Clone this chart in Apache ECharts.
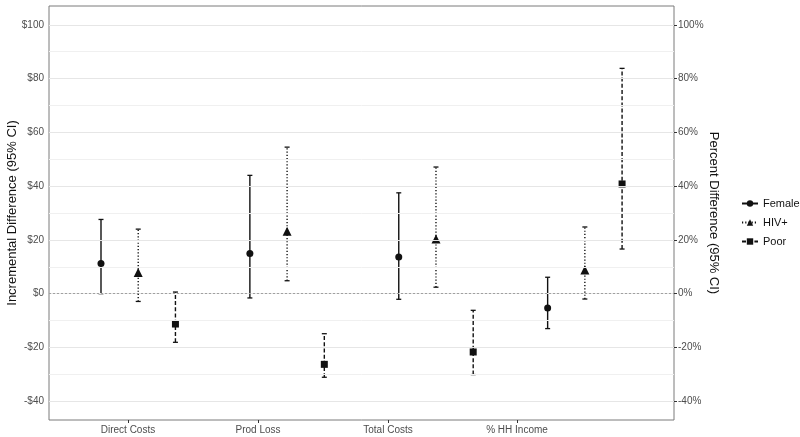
<!DOCTYPE html>
<html>
<head>
    <meta charset="utf-8">
    <title>Incremental and percent difference</title>
    <script src="https://cdn.jsdelivr.net/npm/echarts@6/dist/echarts.min.js"></script>
    <style>
        html, body { margin: 0; padding: 0; background: #fff; }
        #chart { width: 800px; height: 437px; }
    </style>
</head>
<body>
<div id="chart"></div>
<script>
    // categories and groups
    var categories = ['Direct Costs', 'Prod Loss', 'Total Costs', '% HH Income'];
    var groups = ['Female', 'HIV+', 'Poor'];

    // estimates and 95% CI
    var femaleEst = [11.2, 14.9, 13.6, -5.3];
    var femaleLo = [0, -1.6, -2.1, -13.0];
    var femaleHi = [27.6, 44.0, 37.5, 6.1];
    var hivEst = [7.9, 23.2, 20.3, 8.8];
    var hivLo = [-2.9, 4.8, 2.4, -2.0];
    var hivHi = [24.0, 54.5, 47.1, 24.8];
    var poorEst = [-11.3, -26.3, -21.7, 40.8];
    var poorLo = [-18.1, -31.1, -30.1, 16.6];
    var poorHi = [0.6, -14.9, -6.2, 83.8];

    // tick labels
    var yTicks = [-40, -20, 0, 20, 40, 60, 80, 100];
    var yMinor = [-30, -10, 10, 30, 50, 70, 90];
    var xLabelPos = [1.725, 5.218, 8.711, 12.177];

    var est = [femaleEst, hivEst, poorEst];
    var lo = [femaleLo, hivLo, poorLo];
    var hi = [femaleHi, hivHi, poorHi];
    var symbols = ['circle', 'triangle', 'rect'];
    var sizes = [7, 9, 7];
    var dashes = ['solid', [1.2, 2], [4, 2.2]];
    var ink = '#111';

    var myChart = echarts.init(document.getElementById('chart'));

    var series = [];

    // gridlines (ggplot style)
    var gridMarks = [];
    yTicks.forEach(function (v) {
        gridMarks.push({ yAxis: v, lineStyle: { color: '#e6e6e6', width: 1.2, type: 'solid' } });
    });
    yMinor.forEach(function (v) {
        gridMarks.push({ yAxis: v, lineStyle: { color: '#f0f0f0', width: 1, type: 'solid' } });
    });
    gridMarks.push({ yAxis: 0, lineStyle: { color: '#a0a0a0', width: 1, type: [2, 2] } });
    series.push({
        type: 'scatter',
        data: [],
        silent: true,
        z: 0,
        markLine: {
            silent: true,
            symbol: ['none', 'none'],
            label: { show: false },
            animation: false,
            data: gridMarks
        }
    });

    groups.forEach(function (g, j) {
        var bars = [];
        var pts = [];
        categories.forEach(function (c, i) {
            var x = 4 * i + 1 + j;
            bars.push([x, lo[j][i], hi[j][i]]);
            pts.push([x, est[j][i]]);
        });
        series.push({
            type: 'custom',
            name: g + ' CI',
            z: 2,
            encode: { x: 0, y: [1, 2] },
            data: bars,
            renderItem: function (params, api) {
                var x = api.value(0);
                var pLo = api.coord([x, api.value(1)]);
                var pHi = api.coord([x, api.value(2)]);
                var style = {
                    stroke: ink,
                    lineWidth: 1.4,
                    lineDash: dashes[j] === 'solid' ? null : dashes[j]
                };
                var capStyle = { stroke: ink, lineWidth: 1.3 };
                return {
                    type: 'group',
                    children: [
                        { type: 'line', shape: { x1: pLo[0], y1: pLo[1], x2: pHi[0], y2: pHi[1] }, style: style },
                        { type: 'line', shape: { x1: pLo[0] - 2.5, y1: pLo[1], x2: pLo[0] + 2.5, y2: pLo[1] }, style: capStyle },
                        { type: 'line', shape: { x1: pHi[0] - 2.5, y1: pHi[1], x2: pHi[0] + 2.5, y2: pHi[1] }, style: capStyle }
                    ]
                };
            }
        });
        series.push({
            type: 'line',
            name: g,
            z: 3,
            data: pts,
            symbol: symbols[j],
            symbolSize: sizes[j],
            itemStyle: { color: ink },
            lineStyle: { color: ink, width: 1.3, type: dashes[j], opacity: 0 }
        });
    });

    var axisLabelStyle = { color: '#4d4d4d', fontSize: 10, fontFamily: 'Liberation Sans' };
    var nameStyle = { color: '#111', fontSize: 13, fontFamily: 'Liberation Sans' };

    var option = {
        animation: false,
        backgroundColor: '#fff',
        grid: {
            left: 49, right: 126, top: 6, bottom: 17,
            containLabel: false,
            outerBoundsMode: 'none',
            show: true, borderColor: '#7a7a7a', borderWidth: 1
        },
        legend: {
            orient: 'vertical',
            left: 736,
            top: 193,
            itemWidth: 16,
            itemHeight: 8,
            itemGap: 8,
            data: groups,
            lineStyle: { opacity: 1 },
            textStyle: { color: '#111', fontSize: 11, fontFamily: 'Liberation Sans' }
        },
        xAxis: {
            type: 'value',
            min: -0.397,
            max: 16.395,
            axisLine: { show: false, onZero: false },
            splitLine: { show: false },
            axisTick: { show: true, length: 3, customValues: xLabelPos, lineStyle: { color: '#333' } },
            axisLabel: Object.assign({
                margin: 5,
                customValues: xLabelPos,
                formatter: function (v) {
                    var k = xLabelPos.indexOf(v);
                    return k >= 0 ? categories[k] : '';
                }
            }, axisLabelStyle)
        },
        yAxis: [{
            type: 'value',
            min: -47,
            max: 107,
            name: 'Incremental Difference (95% CI)',
            nameLocation: 'middle',
            nameGap: 30,
            nameMoveOverlap: false,
            nameTextStyle: nameStyle,
            axisLine: { show: false },
            splitLine: { show: false },
            axisTick: { show: true, length: 3, customValues: yTicks, lineStyle: { color: '#333' } },
            axisLabel: Object.assign({
                margin: 5,
                customValues: yTicks,
                formatter: function (v) { return (v < 0 ? '-$' : '$') + Math.abs(v); }
            }, axisLabelStyle)
        }, {
            type: 'value',
            position: 'right',
            min: -47,
            max: 107,
            name: 'Percent Difference (95% CI)',
            nameLocation: 'middle',
            nameGap: 33,
            nameMoveOverlap: false,
            nameRotate: -90,
            nameTextStyle: nameStyle,
            axisLine: { show: false },
            splitLine: { show: false },
            axisTick: { show: true, length: 3, customValues: yTicks, lineStyle: { color: '#333' } },
            axisLabel: Object.assign({
                margin: 4,
                customValues: yTicks,
                formatter: function (v) { return v + '%'; }
            }, axisLabelStyle)
        }],
        series: series
    };

    myChart.setOption(option);
</script>
</body>
</html>
